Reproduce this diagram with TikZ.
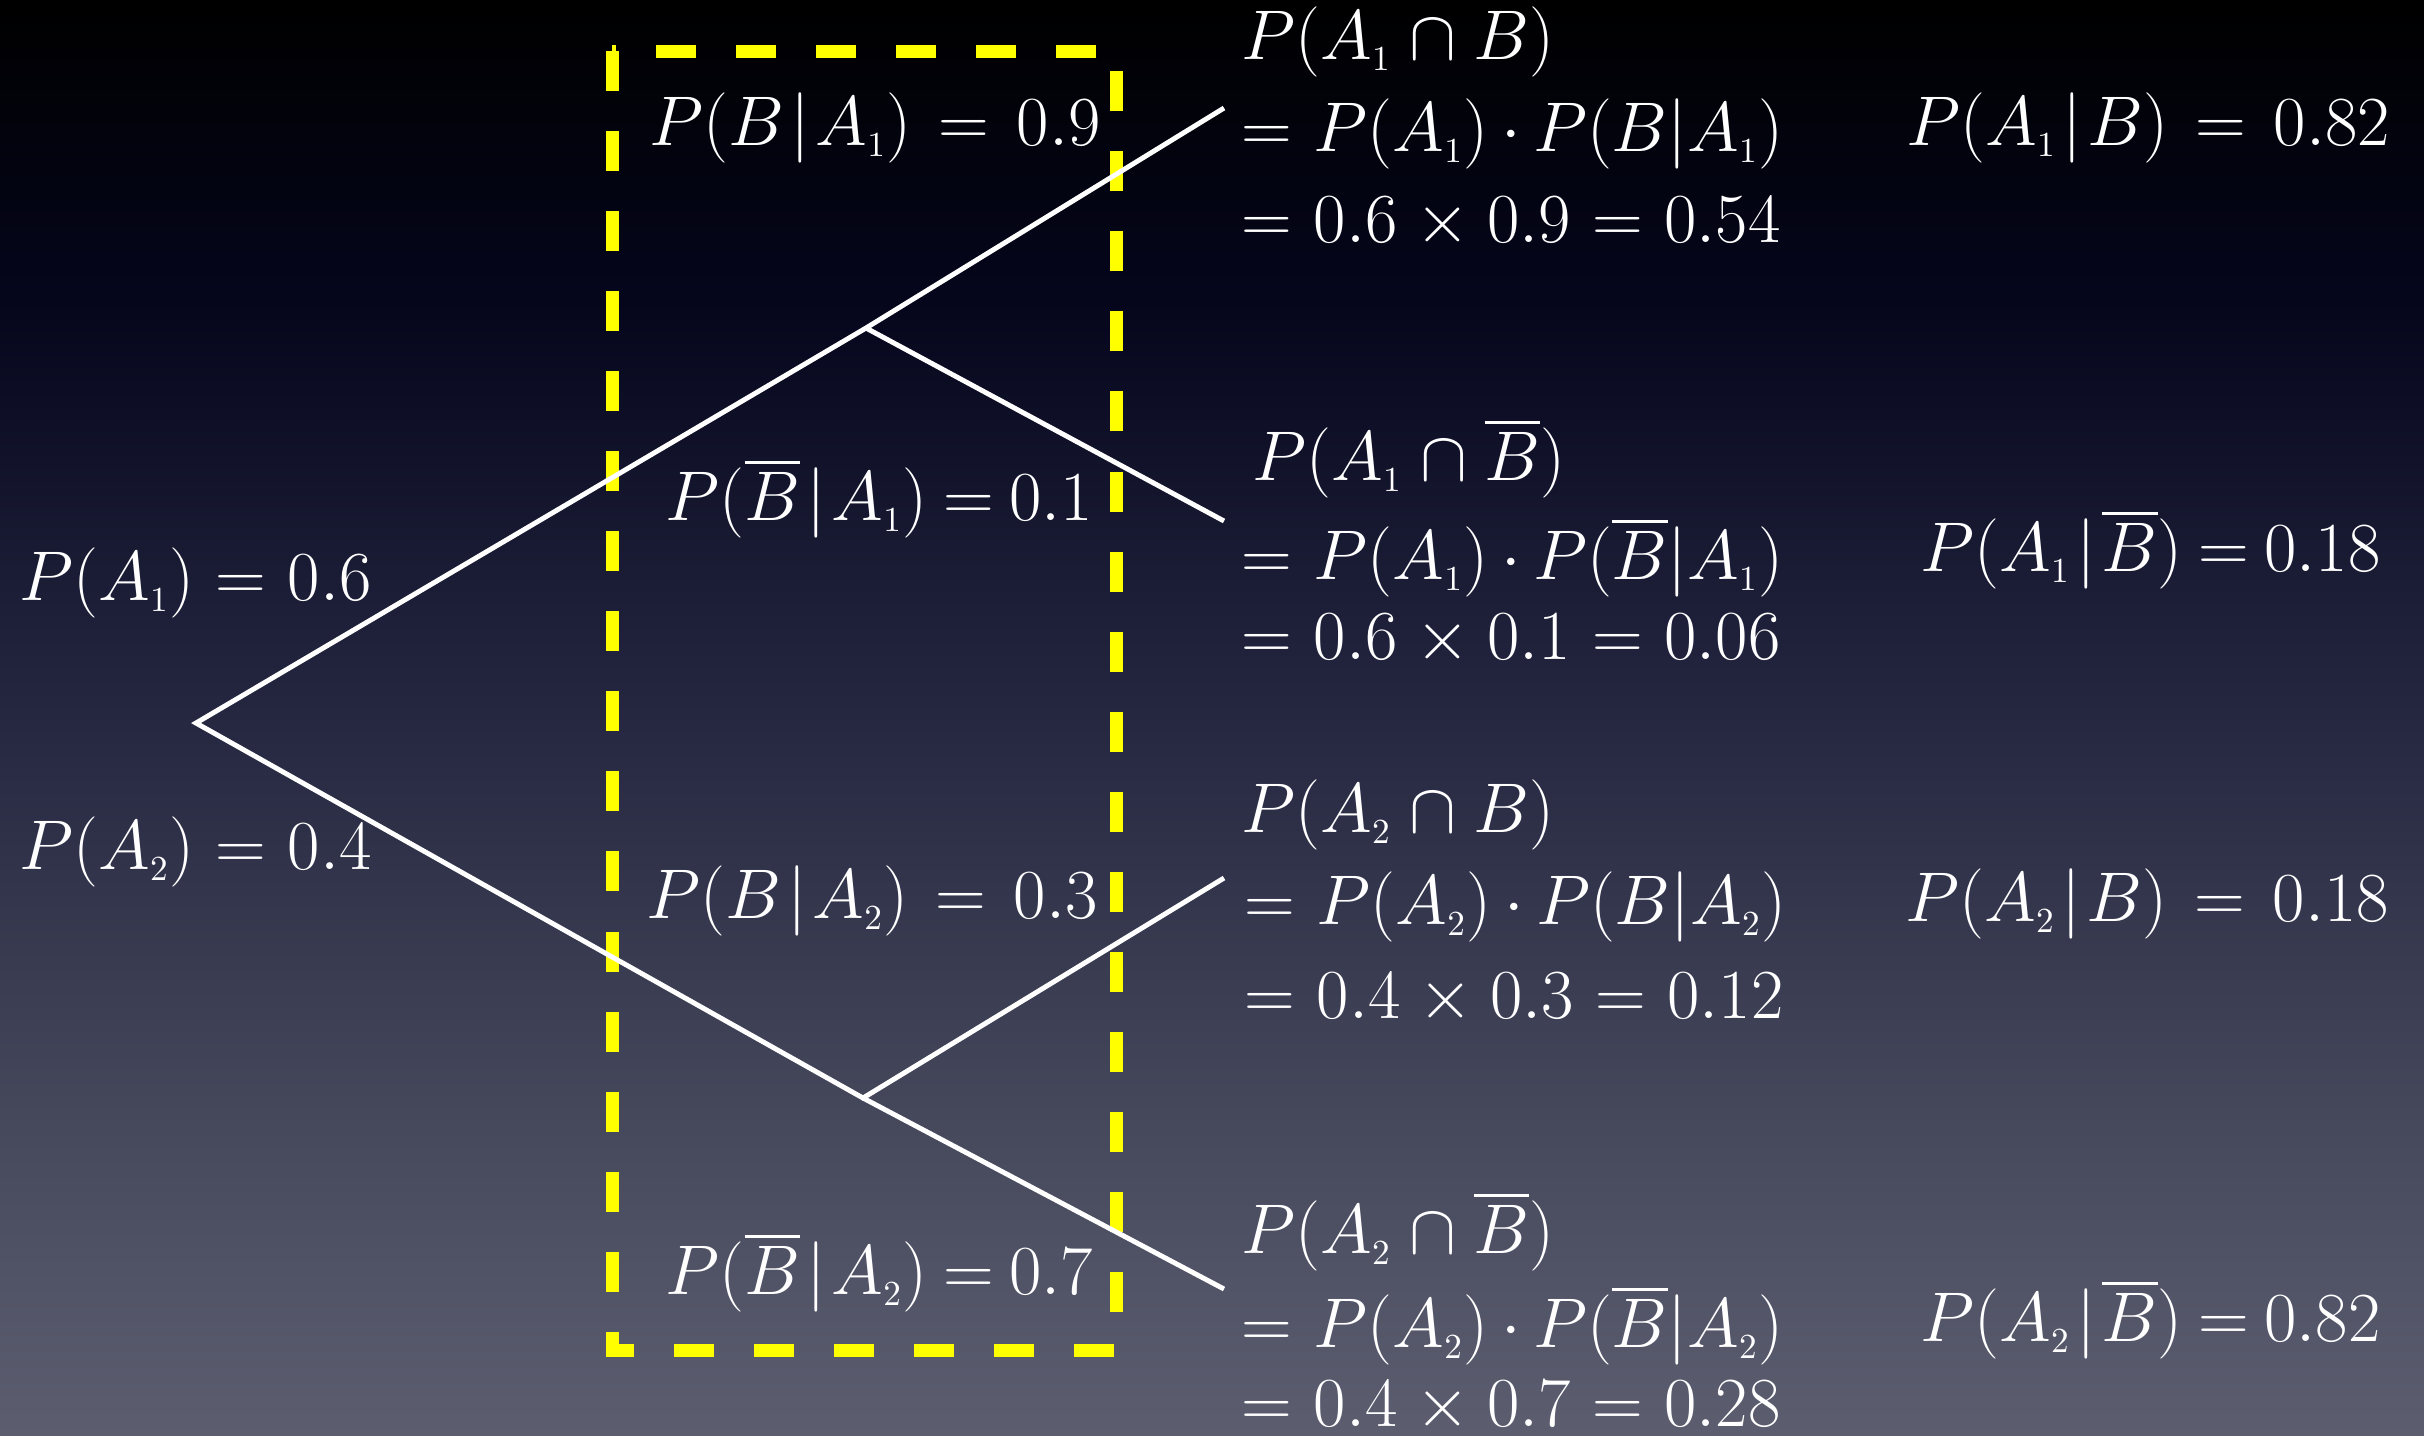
\RequirePackage{fix-cm}
\documentclass[tikz,border=0pt]{standalone}
\usepackage{amsmath}
\definecolor{bg0}{RGB}{0,0,0}
\definecolor{bg1}{RGB}{5,6,28}
\definecolor{bg2}{RGB}{36,38,64}
\definecolor{bg3}{RGB}{68,70,90}
\definecolor{bg4}{RGB}{92,94,112}
\definecolor{boxyellow}{RGB}{255,255,0}
\newcommand{\Aone}{A_{\scriptscriptstyle 1}}
\newcommand{\Atwo}{A_{\scriptscriptstyle 2}}
\newcommand{\nB}{\overline{B}}
\newcommand{\gv}{\mskip1.5mu|\mskip1.5mu}
\newcommand{\gvt}{|}
\begin{document}
\thickmuskip=5.5mu plus 5mu\relax
\medmuskip=4.5mu plus 2mu minus 4mu\relax
\begin{tikzpicture}[x=0.01cm,y=-0.01cm,
  lab/.style={anchor=west, inner sep=0pt, text=white,
    font=\fontsize{20}{24}\selectfont},
  tight/.style={execute at begin node={\medmuskip=3.2mu\relax}},
  wideeq/.style={execute at begin node={\thickmuskip=7mu\relax}},
  narroweq/.style={execute at begin node={\thickmuskip=4mu\relax}},
  branch/.style={draw=white, line width=1.4pt},
  dashbox/.style={draw=boxyellow, line width=3.7pt, dash pattern=on 0.4cm off 0.4cm}]
\useasboundingbox (0,0) rectangle (2424,1435);
\shade[top color=bg0, bottom color=bg1] (0,-1) rectangle (2424,301);
\shade[top color=bg1, bottom color=bg2] (0,300) rectangle (2424,701);
\shade[top color=bg2, bottom color=bg3] (0,700) rectangle (2424,1101);
\shade[top color=bg3, bottom color=bg4] (0,1100) rectangle (2424,1436);

% yellow dashed box
\draw[dashbox] (612,51) rectangle (1116,1350);

% tree
\coordinate (root) at (196,723);
\coordinate (a1) at (866,328);
\coordinate (a2) at (863,1098);
\coordinate (l1) at (1224,108);
\coordinate (l2) at (1224,521);
\coordinate (l3) at (1224,878);
\coordinate (l4) at (1224,1289);
\draw[branch] (l1) -- (a1) -- (root) -- (a2) -- (l3);
\draw[branch] (a1) -- (l2);
\draw[branch] (a2) -- (l4);

% first level labels
\node[lab] (pa1) at (19,583) {$P(\Aone) = 0.6$};
\node[lab] (pa2) at (19,852) {$P(\Atwo) = 0.4$};

% second level labels
\node[lab,wideeq] (pba1) at (649,128) {$P(B\gv\Aone) = 0.9$};
\node[lab,narroweq] (pnba1) at (665,498) {$P(\nB\gv\Aone) = 0.1$};
\node[lab,wideeq] (pba2) at (646,901) {$P(B\gv\Atwo) = 0.3$};
\node[lab,narroweq] (pnba2) at (665,1272) {$P(\nB\gv\Atwo) = 0.7$};

% joint probabilities
\node[lab] (j1a) at (1241,42) {$P(\Aone \cap B)$};
\node[lab,tight] (j1b) at (1241,134) {$= P(\Aone)\cdot P(B\gvt\Aone)$};
\node[lab] (j1c) at (1241,223) {$= 0.6 \times 0.9 = 0.54$};

\node[lab] (j2a) at (1252,458) {$P(\Aone \cap \nB)$};
\node[lab,tight] (j2b) at (1241,557) {$= P(\Aone)\cdot P(\nB\gvt\Aone)$};
\node[lab] (j2c) at (1241,640) {$= 0.6 \times 0.1 = 0.06$};

\node[lab] (j3a) at (1241,815) {$P(\Atwo \cap B)$};
\node[lab,tight] (j3b) at (1244,907) {$= P(\Atwo)\cdot P(B\gvt\Atwo)$};
\node[lab] (j3c) at (1244,999) {$= 0.4 \times 0.3 = 0.12$};

\node[lab] (j4a) at (1241,1231) {$P(\Atwo \cap \nB)$};
\node[lab,tight] (j4b) at (1241,1325) {$= P(\Atwo)\cdot P(\nB\gvt\Atwo)$};
\node[lab] (j4c) at (1241,1407) {$= 0.4 \times 0.7 = 0.28$};

% posterior probabilities
\node[lab,wideeq] (q1) at (1906,128) {$P(\Aone\gv B) = 0.82$};
\node[lab,narroweq] (q2) at (1920,549) {$P(\Aone\gv\nB) = 0.18$};
\node[lab,wideeq] (q3) at (1905,904) {$P(\Atwo\gv B) = 0.18$};
\node[lab,narroweq] (q4) at (1920,1319) {$P(\Atwo\gv\nB) = 0.82$};
\end{tikzpicture}
\end{document}
